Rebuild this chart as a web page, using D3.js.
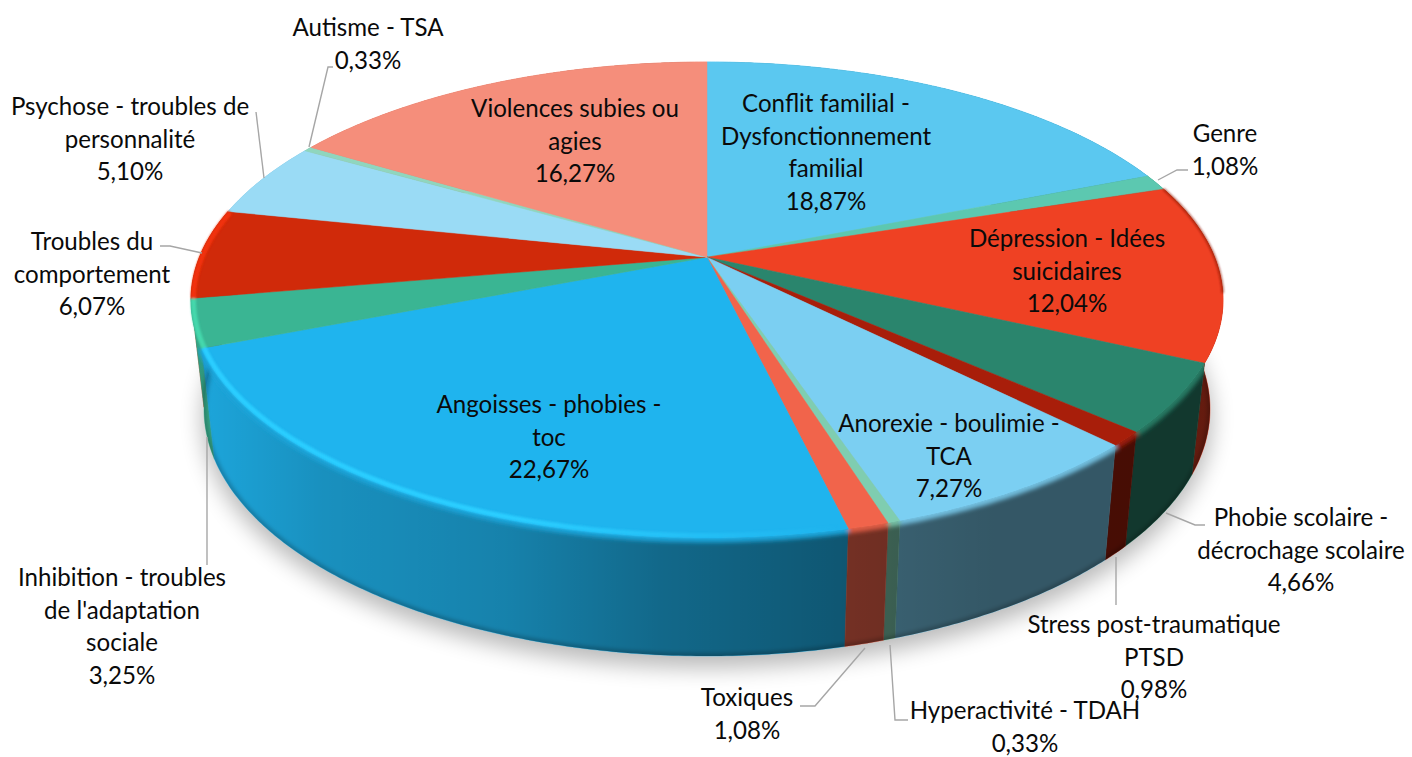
<!DOCTYPE html>
<html><head><meta charset="utf-8">
<script src="https://cdn.jsdelivr.net/npm/d3@7"></script>
<style>html,body{margin:0;padding:0;background:#fff}svg{display:block}text{font-family:Lato,sans-serif;font-size:24.1px;fill:#0a0a0a}</style>
</head><body><svg id="c" width="1412" height="757"></svg>
<script>
const categories=["Conflit familial - Dysfonctionnement familial","Genre","Dépression - Idées suicidaires","Phobie scolaire - décrochage scolaire","Stress post-traumatique PTSD","Anorexie - boulimie - TCA","Hyperactivité - TDAH","Toxiques","Angoisses - phobies - toc","Inhibition - troubles de l'adaptation sociale","Troubles du comportement","Psychose - troubles de personnalité","Autisme - TSA","Violences subies ou agies"];
const values=[18.87,1.08,12.04,4.66,0.98,7.27,0.33,1.08,22.67,3.25,6.07,5.10,0.33,16.27];
const colors=["#5BC8F0","#5CC8B0","#EF4123","#2A856D","#A81E0A","#7BCFF2","#7FCDB0","#F1644B","#1FB4EE","#3AB593","#D02A0A","#9ADBF5","#8FD6BE","#F58E7B"];
const labelLines=[["Conflit familial -","Dysfonctionnement","familial","18,87%"],["Genre","1,08%"],["Dépression - Idées","suicidaires","12,04%"],["Phobie scolaire -","décrochage scolaire","4,66%"],["Stress post-traumatique","PTSD","0,98%"],["Anorexie - boulimie -","TCA","7,27%"],["Hyperactivité - TDAH","0,33%"],["Toxiques","1,08%"],["Angoisses - phobies -","toc","22,67%"],["Inhibition - troubles","de l'adaptation","sociale","3,25%"],["Troubles du","comportement","6,07%"],["Psychose - troubles de","personnalité","5,10%"],["Autisme - TSA","0,33%"],["Violences subies ou","agies","16,27%"]];
// layout (separate from the data)
const labelX=[826,1225,1067,1301,1154,949,1025,747,549,122,92,130,368,575];
const labelY=[112,142,247,526,633,432,719,706,413,586,250,115,36,117];
const leaderPts=[null,[[1158,180],[1177,170],[1188,170]],null,[[1166,513],[1195,525],[1205,525]],[[1116,557],[1116,605]],null,[[890,645],[895,720],[908,720]],[[865,648],[815,706],[800,706]],null,[[207,437],[207,565]],[[202,253],[170,246],[160,246]],[[264,178],[256,112]],[[309,147],[328,67],[333,67]],null];
const lineH=32.6;

const svg=d3.select("#c"),defs=svg.append("defs");
const topE={cx:707,cy:300,rx:516,ry:238},botE={cx:707,cy:409,rx:503,ry:247};
const persp=-0.18;
const sx=e=>d3.scaleLinear().domain([-1,1]).range([e.cx-e.rx,e.cx+e.rx]);
const sy=e=>d3.scaleLinear().domain([-1,1]).range([e.cy-e.ry,e.cy+e.ry]);
function proj(e,th){const x=Math.sin(th),y=-Math.cos(th),k=1+persp*y;
  return [sx(e)((x*Math.sqrt(1-persp*persp))/k),sy(e)((y+persp)/k)];}
const apex=[sx(topE)(0),sy(topE)(persp)];
const pie=d3.pie().sort(null)(values);
const arcPts=(e,a,b)=>{const n=Math.max(2,Math.ceil((b-a)/0.01));return d3.range(n+1).map(i=>proj(e,a+(b-a)*i/n));};
const line=d3.line();
const blur=(id,s)=>defs.append("filter").attr("id",id).attr("x","-20%").attr("y","-20%").attr("width","140%").attr("height","140%").append("feGaussianBlur").attr("stdDeviation",s);
blur("bShadow",11);blur("bBand",2.2);blur("bHi",1.3);
const shade=defs.append("linearGradient").attr("id","shade").attr("gradientUnits","userSpaceOnUse").attr("x1",200).attr("x2",1220).attr("y1",0).attr("y2",0);
[[0,.08],[.12,.2],[.3,.28],[.45,.42],[.63,.52],[.78,.58],[1,.58]].forEach(([o,a])=>shade.append("stop").attr("offset",o).attr("stop-color","#000").attr("stop-opacity",a));
const hiG=defs.append("linearGradient").attr("id","hiG").attr("gradientUnits","userSpaceOnUse").attr("x1",190).attr("x2",840).attr("y1",0).attr("y2",0);
hiG.append("stop").attr("offset",0).attr("stop-color","#fff");hiG.append("stop").attr("offset",.5).attr("stop-color","#fff");hiG.append("stop").attr("offset",1).attr("stop-color","#000");
defs.append("mask").attr("id","hiM").attr("maskUnits","userSpaceOnUse").attr("x",0).attr("y",0).attr("width",1412).attr("height",757).append("rect").attr("width",1412).attr("height",757).attr("fill","url(#hiG)");

// shadow
svg.append("ellipse").attr("cx",botE.cx).attr("cy",botE.cy+10).attr("rx",botE.rx+2).attr("ry",botE.ry+2).attr("fill","#000").attr("opacity",.27).attr("filter","url(#bShadow)");

// sides
const sidePath=d=>{const t=arcPts(topE,d.startAngle,d.endAngle),b=arcPts(botE,d.startAngle,d.endAngle).reverse();return line(t.concat(b))+"Z";};
const clip=defs.append("clipPath").attr("id","sideClip");
clip.selectAll("path").data(pie).join("path").attr("d",sidePath);
const front=pie.slice().sort((a,b)=>proj(topE,(a.startAngle+a.endAngle)/2)[1]-proj(topE,(b.startAngle+b.endAngle)/2)[1]);
const sides=svg.append("g");
sides.selectAll("path").data(front).join("path").attr("d",sidePath).attr("fill",d=>colors[d.index]).attr("stroke",d=>colors[d.index]).attr("stroke-width",.5);
sides.append("g").selectAll("path").data(pie).join("path").attr("d",sidePath).attr("fill","url(#shade)");
const sideFx=svg.append("g").attr("clip-path","url(#sideClip)");
// soft dark edge at the bottom of the side
sideFx.append("g").attr("filter","url(#bBand)").selectAll("path").data(pie).join("path")
  .attr("d",d=>line(arcPts(botE,d.startAngle,d.endAngle))).attr("fill","none").attr("stroke","#000").attr("stroke-opacity",.25).attr("stroke-width",5);
// soft bevel between top and side
sideFx.append("g").attr("filter","url(#bBand)").selectAll("path").data(pie).join("path")
  .attr("d",d=>line(arcPts(topE,d.startAngle,d.endAngle))).attr("fill","none").attr("stroke",d=>d3.color(colors[d.index]).darker(.25)).attr("stroke-width",9);
// top face
svg.append("g").selectAll("path").data(pie).join("path")
  .attr("d",d=>line([apex].concat(arcPts(topE,d.startAngle,d.endAngle)))+"Z").attr("fill",d=>colors[d.index]).attr("stroke",d=>colors[d.index]).attr("stroke-width",.5);
// bright rim at the left
const inner={cx:topE.cx,cy:topE.cy,rx:topE.rx-2.5,ry:topE.ry-2.5};
svg.append("g").attr("mask","url(#hiM)").append("g").attr("filter","url(#bHi)").selectAll("path").data(pie.filter(d=>d.index>=8&&d.index<=10)).join("path")
  .attr("d",d=>line(arcPts(inner,d.startAngle,d.endAngle))).attr("fill","none")
  .attr("stroke",d=>d.index==8?"#2CCEFF":d.index==9?"#45D8AC":"#F2300A").attr("stroke-width",5);
// dark rim at the upper right
svg.append("g").attr("filter","url(#bHi)").selectAll("path").data(pie.filter(d=>d.index==2)).join("path")
  .attr("d",d=>line(arcPts(topE,d.startAngle,d.startAngle+(d.endAngle-d.startAngle)*.62))).attr("fill","none")
  .attr("stroke","#8F1B08").attr("stroke-opacity",.7).attr("stroke-width",2.5);

// leaders
svg.append("g").selectAll("path").data(leaderPts.filter(Boolean)).join("path").attr("d",d=>line(d)).attr("fill","none").attr("stroke","#A6A6A6").attr("stroke-width",1.4);
// labels
const tg=svg.append("g").selectAll("text").data(labelLines).join("text").attr("text-anchor","middle")
  .attr("x",(d,i)=>labelX[i]).attr("y",(d,i)=>labelY[i]);
tg.selectAll("tspan").data(d=>d).join("tspan").attr("x",function(){return this.parentNode.getAttribute("x");}).attr("dy",(d,i)=>i?lineH:0).text(d=>d);
</script></body></html>
